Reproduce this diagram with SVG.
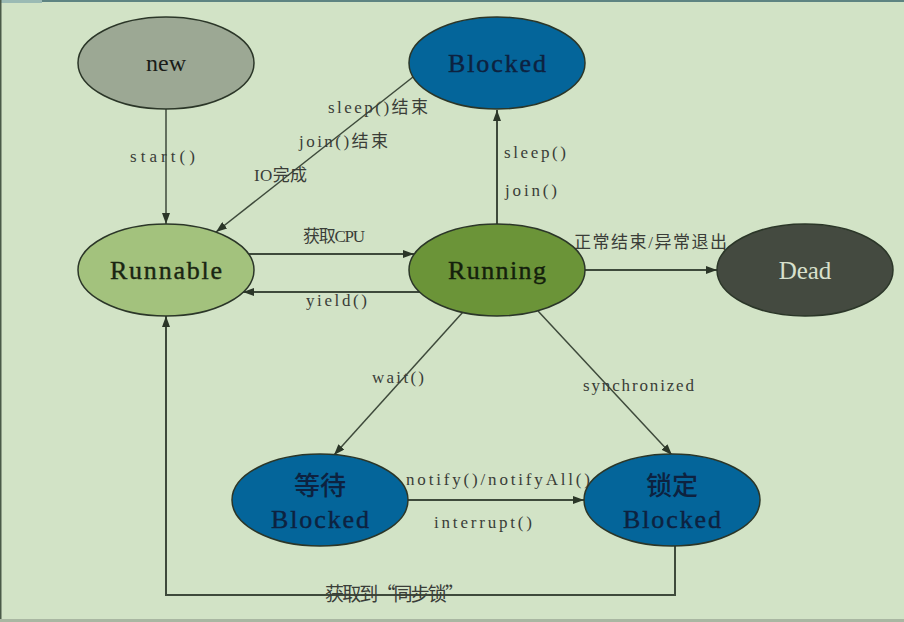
<svg xmlns="http://www.w3.org/2000/svg" width="904" height="622" viewBox="0 0 904 622">
<style>
.node{stroke:#2b3628;stroke-width:1.5}
.edge{fill:none;stroke:#3e4a3b;stroke-width:1.5}
.edge2{fill:none;stroke:#3e4a3b;stroke-width:2}
.lbl{font-family:"Liberation Serif","Noto Sans CJK SC",serif;font-size:17px;fill:#3a3d38}
.cjk{font-family:"Noto Sans CJK SC",sans-serif;font-size:17px}
.big{font-family:"Liberation Serif","Noto Sans CJK SC",serif;font-size:26px;text-anchor:middle;stroke-width:0.4}
.serif{font-family:"Liberation Serif",serif;font-size:24px;text-anchor:middle}
.cjkbig{font-family:"Noto Sans CJK SC",sans-serif;font-size:26px;text-anchor:middle;font-weight:500}
</style>
<defs>
<marker id="arr" markerUnits="userSpaceOnUse" markerWidth="11" markerHeight="8" refX="11" refY="4" orient="auto">
<path d="M0,0 L11,4 L0,8 z" fill="#2b3628"/>
</marker>
</defs>
<rect x="0" y="0" width="904" height="622" fill="#d2e3c6"/>
<rect x="0" y="0" width="904" height="2" fill="#5e8482"/>
<rect x="0" y="0" width="42" height="3" fill="#9bbab4"/>
<rect x="0" y="0" width="1.5" height="622" fill="#4a5a48"/>
<rect x="0" y="619" width="904" height="3" fill="#a9b7a2"/>

<g id="connectors">
<path class="edge" d="M166,109 L166,224" marker-end="url(#arr)"/>
<path class="edge" d="M413,77 L216,232" marker-end="url(#arr)"/>
<path class="edge2" d="M497,224 L497,110" marker-end="url(#arr)"/>
<path class="edge2" d="M249,254 L414,254" marker-end="url(#arr)"/>
<path class="edge2" d="M421,292 L243,292" marker-end="url(#arr)"/>
<path class="edge2" d="M585,270 L717,270" marker-end="url(#arr)"/>
<path class="edge" d="M463,312 L334,455" marker-end="url(#arr)"/>
<path class="edge" d="M538,311 L672,455" marker-end="url(#arr)"/>
<path class="edge2" d="M408,500 L584,500" marker-end="url(#arr)"/>
<path class="edge2" d="M675,546 L675,595 L166,595 L166,316" marker-end="url(#arr)"/>
<text class="lbl" x="130" y="162" textLength="65" lengthAdjust="spacing">start()</text>
<text class="lbl" x="328" y="113" textLength="100" lengthAdjust="spacing">sleep()<tspan class="cjk">结束</tspan></text>
<text class="lbl" x="299" y="147" textLength="89" lengthAdjust="spacing">join()<tspan class="cjk">结束</tspan></text>
<text class="lbl" x="254" y="181" textLength="53" lengthAdjust="spacing">IO<tspan class="cjk">完成</tspan></text>
<text class="lbl" x="504" y="158" textLength="62" lengthAdjust="spacing">sleep()</text>
<text class="lbl" x="505" y="196" textLength="52" lengthAdjust="spacing">join()</text>
<text class="lbl" x="303" y="242" textLength="62" lengthAdjust="spacing"><tspan class="cjk">获取</tspan>CPU</text>
<text class="lbl" x="306" y="306" textLength="61" lengthAdjust="spacing">yield()</text>
<text class="lbl" x="574" y="248" textLength="153" lengthAdjust="spacing"><tspan class="cjk">正常结束</tspan>/<tspan class="cjk">异常退出</tspan></text>
<text class="lbl" x="372" y="383" textLength="52" lengthAdjust="spacing">wait()</text>
<text class="lbl" x="583" y="391" textLength="111" lengthAdjust="spacing">synchronized</text>
<text class="lbl" x="406" y="485" textLength="184" lengthAdjust="spacing">notify()/notifyAll()</text>
<text class="lbl" x="434" y="528" textLength="98" lengthAdjust="spacing">interrupt()</text>
<text class="lbl" x="325" y="601" textLength="139" lengthAdjust="spacing"><tspan class="cjk" style="font-size:19px">获取到“同步锁”</tspan></text>
</g>

<g id="node-new">
<ellipse class="node" cx="166" cy="63" rx="88" ry="46" fill="#9ca894"/>
<text class="serif" x="166" y="71" fill="#1a1c18">new</text>
</g>
<g id="node-blocked">
<ellipse class="node" cx="497" cy="63" rx="88" ry="46" fill="#04659a"/>
<text class="big" x="497" y="72" textLength="98" lengthAdjust="spacing" fill="#0d2240" stroke="#0d2240">Blocked</text>
</g>
<g id="node-runnable">
<ellipse class="node" cx="166" cy="270" rx="88" ry="46" fill="#a3c27d"/>
<text class="big" x="166" y="279" textLength="112" lengthAdjust="spacing" fill="#1a2612" stroke="#1a2612">Runnable</text>
</g>
<g id="node-running">
<ellipse class="node" cx="497" cy="270" rx="88" ry="46" fill="#6b9438"/>
<text class="big" x="497" y="279" textLength="98" lengthAdjust="spacing" fill="#14200c" stroke="#14200c">Running</text>
</g>
<g id="node-dead">
<ellipse class="node" cx="805" cy="270" rx="88" ry="46" fill="#444a40"/>
<text class="serif" x="805" y="279" style="font-size:25px" fill="#d8e0cc">Dead</text>
</g>
<g id="node-wait-blocked">
<ellipse class="node" cx="320" cy="500" rx="88" ry="46" fill="#04659a"/>
<text class="cjkbig" x="320" y="495" fill="#0d2240">等待</text>
<text class="big" x="320" y="528" textLength="98" lengthAdjust="spacing" fill="#0d2240" stroke="#0d2240">Blocked</text>
</g>
<g id="node-lock-blocked">
<ellipse class="node" cx="672" cy="500" rx="88" ry="46" fill="#04659a"/>
<text class="cjkbig" x="672" y="495" fill="#0d2240">锁定</text>
<text class="big" x="672" y="528" textLength="98" lengthAdjust="spacing" fill="#0d2240" stroke="#0d2240">Blocked</text>
</g>
</svg>
